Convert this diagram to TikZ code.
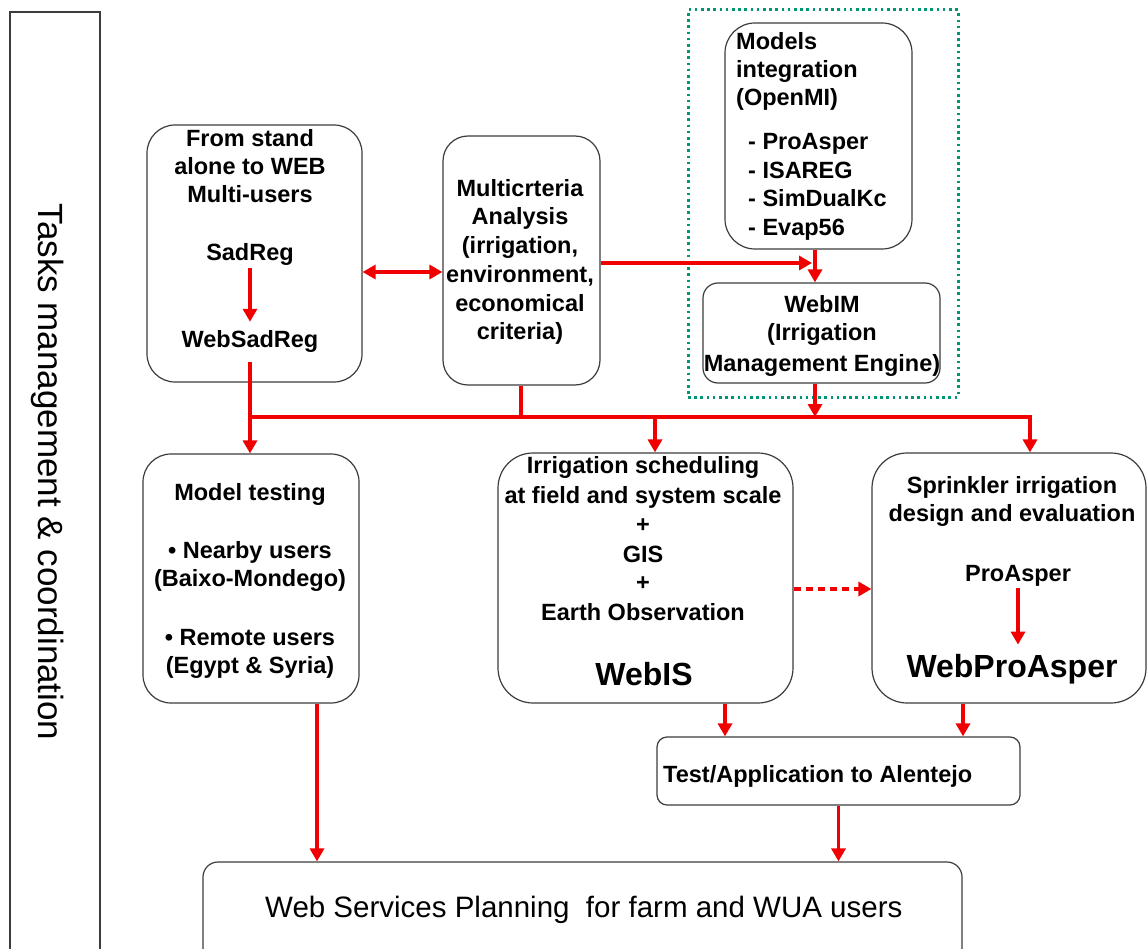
\documentclass[tikz,border=0pt]{standalone}
\usepackage{fontspec}
\setmainfont{Liberation Sans}
\usetikzlibrary{arrows.meta}
\definecolor{rd}{RGB}{240,0,0}
\definecolor{gr}{RGB}{0,150,115}
\definecolor{bx}{RGB}{60,60,60}
\newcommand\tf{\fontsize{23.5}{28}\selectfont\bfseries}
\newcommand\bigf{\fontsize{32}{38}\selectfont\bfseries}
\begin{document}
\begin{tikzpicture}[x=1pt,y=-1pt,
  box/.style={draw=bx,line width=1.2,fill=white,inner sep=0,rounded corners=#1},
  box/.default=25,
  t/.style={font=\tf,anchor=base,inner sep=0},
  tl/.style={font=\tf,anchor=base west,inner sep=0},
  rl/.style={draw=rd,line width=3.6},
  ar/.style={rl,-{Triangle[length=13,width=14]}},
]
\useasboundingbox (0,0) rectangle (1148,949);
\clip (0,0) rectangle (1148,949);
\fill[white] (0,0) rectangle (1148,949);

% left frame
\node[draw=bx,line width=1.2,inner sep=0,minimum width=90,minimum height=968] (frame) at (55,496) {};
\node[rotate=-90,font=\fontsize{35}{40}\selectfont,inner sep=0] (tasks) at (48,472) {Tasks management \& coordination};

% dotted group
\node[draw=gr,line width=3,dash pattern=on 2.6 off 3.6,inner sep=0,minimum width=270,minimum height=387] (grp) at (823,203.5) {};

% boxes
\node[box=28,minimum width=215,minimum height=257] (b1) at (254.5,253.5) {};
\node[box=25,minimum width=157,minimum height=249] (multi) at (521.5,260.5) {};
\node[box=30,minimum width=187,minimum height=226] (models) at (818.5,136) {};
\node[box=15,minimum width=237,minimum height=100] (webim) at (821.5,333) {};
\node[box=28,minimum width=216,minimum height=249] (mt) at (251,578.5) {};
\node[box=35,minimum width=295,minimum height=250] (irr) at (645.5,578) {};
\node[box=35,minimum width=274,minimum height=250] (spr) at (1009,578) {};
\node[box=10,minimum width=363,minimum height=68] (test) at (838.5,771) {};
\node[box=15,minimum width=759,minimum height=113] (ws) at (582.5,918.5) {};

% box 1 text
\node[t] (b1a) at (250,147) {From stand};
\node[t] (b1b) at (250,175) {alone to WEB};
\node[t] (b1c) at (250,203) {Multi-users};
\node[t] (sadreg) at (250,261) {SadReg};
\node[t] (websadreg) at (250,348) {WebSadReg};

% multicriteria text
\node[t] (m1) at (520,197) {Multicrteria};
\node[t] (m2) at (520,225) {Analysis};
\node[t] (m3) at (520,254) {(irrigation,};
\node[t] (m4) at (520,283) {environment,};
\node[t] (m5) at (520,312) {economical};
\node[t] (m6) at (520,340) {criteria)};

% models text
\node[tl] (mo1) at (736,50) {Models};
\node[tl] (mo2) at (736,78) {integration};
\node[tl] (mo3) at (736,106) {(OpenMI)};
\node[tl] (mo4) at (748,150) {- ProAsper};
\node[tl] (mo5) at (748,179) {- ISAREG};
\node[tl] (mo6) at (748,207) {- SimDualKc};
\node[tl] (mo7) at (748,236) {- Evap56};

% webim text
\node[t] (w1) at (822,313) {WebIM};
\node[t] (w2) at (822,341) {(Irrigation};
\node[t] (w3) at (822,371) {Management Engine)};

% model testing text
\node[t] (mt1) at (250,500) {Model testing};
\node[t] (mt2) at (250,558) {\textbullet\ Nearby users};
\node[t] (mt3) at (250,586) {(Baixo-Mondego)};
\node[t] (mt4) at (250,645) {\textbullet\ Remote users};
\node[t] (mt5) at (250,673) {(Egypt \& Syria)};

% irrigation scheduling text
\node[t] (i1) at (643,473) {Irrigation scheduling};
\node[t] (i2) at (643,503) {at field and system scale};
\node[t] (i3) at (643,532) {+};
\node[t] (i4) at (643,562) {GIS};
\node[t] (i5) at (643,590) {+};
\node[t] (i6) at (643,620) {Earth Observation};
\node[t,font=\bigf] (webis) at (644,685) {WebIS};

% sprinkler text
\node[t] (s1) at (1012,493) {Sprinkler irrigation};
\node[t] (s2) at (1012,521) {design and evaluation};
\node[t] (pa) at (1018,581) {ProAsper};
\node[t,font=\bigf] (wpa) at (1012,677) {WebProAsper};

% test and web services text
\node[tl] (tt) at (663,782) {Test/Application to Alentejo};
\node[anchor=base west,inner sep=0,font=\fontsize{29.5}{34}\selectfont] (wst) at (265,917) {Web Services Planning\ \ for farm and WUA users};

% connectors
\coordinate (j1) at (250,417);
\coordinate (j2) at (521,417);
\coordinate (j3) at (655,417);
\coordinate (j4) at (815,417);
\coordinate (j5) at (1030,417);
\coordinate (b1s) at (250,362);
\coordinate (dy) at (400,272);
\coordinate (mtip) at (812,263);
\coordinate (dd) at (830,589);
\coordinate (c725) at (725,0);
\coordinate (c963) at (963,0);
\coordinate (c317) at (317,0);

\draw[ar] ([yshift=-2]sadreg.south) -- ([yshift=9]websadreg.north -| sadreg.south);
\draw[rl,{Triangle[length=13,width=14]}-{Triangle[length=13,width=14]}] (b1.east |- dy) -- (multi.west |- dy);
\draw[ar] (multi.east |- mtip) -- (mtip);
\draw[ar] (models.south -| j4) -- (webim.north -| j4);
\draw[ar] (b1s) -- (j1) -- (j5) -- (j5 |- spr.north);
\draw[ar] (j1) -- (j1 |- mt.north);
\draw[ar] (j3) -- (j3 |- irr.north);
\draw[rl] (multi.south -| j2) -- (j2);
\draw[ar] (webim.south -| j4) -- (j4);
\draw[ar,dash pattern=on 7 off 5] (irr.east |- dd) -- (spr.west |- dd);
\draw[ar] ([yshift=-2]pa.south) -- ([yshift=9]wpa.north -| pa.south);
\draw[ar] (irr.south -| c725) -- (test.north -| c725);
\draw[ar] (spr.south -| c963) -- (test.north -| c963);
\draw[ar] (mt.south -| c317) -- (ws.north -| c317);
\draw[ar] (test.south) -- (ws.north -| test.south);
\end{tikzpicture}
\end{document}
